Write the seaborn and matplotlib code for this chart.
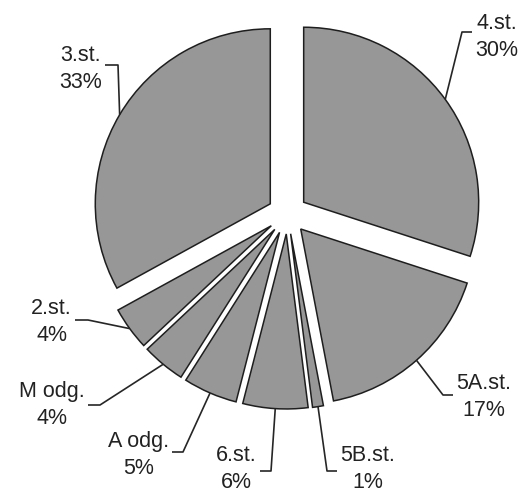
import numpy as np
import matplotlib
matplotlib.use("Agg")
import matplotlib.pyplot as plt
import seaborn as sns

# data (clockwise from 12 o'clock)
categories = ["4.st.", "5A.st.", "5B.st.", "6.st.", "A odg.", "M odg.", "2.st.", "3.st."]
shares = [30, 17, 1, 6, 5, 4, 4, 33]

# label layout in picture pixels (y downwards): elbow of leader, end of leader, text shift
elbows = [(462, 32), (443, 395), (327, 471), (271, 471), (183, 452), (100, 405), (88, 320), (118, 65)]
ends_x = [472, 453, 337, 260, 172, 88, 75, 105]
text_dy = [5, 2, -2, -2, 3, 0, 2, 4]

W, H = 521, 495

sns.set_theme(style="white")
plt.rcParams["font.family"] = ["Liberation Sans", "DejaVu Sans"]

fig = plt.figure(figsize=(W / 100, H / 100), dpi=100)
ax = fig.add_axes([0, 0, 1, 1])

wedges, _ = ax.pie(
    shares,
    explode=[20] * len(shares),
    radius=175,
    center=(287.5, H - 214),
    startangle=90,
    counterclock=False,
    colors=["#979797"] * len(shares),
    wedgeprops=dict(edgecolor="#1e1e1e", linewidth=1.1),
)

line_kw = dict(color="#262626", lw=1.2, solid_capstyle="butt")
for w, cat, val, (ex, ey), xe, dy in zip(wedges, categories, shares, elbows, ends_x, text_dy):
    tm = np.deg2rad((w.theta1 + w.theta2) / 2)
    cx, cy = w.center
    px, py = cx + w.r * np.cos(tm), cy + w.r * np.sin(tm)
    ey_up = H - ey
    ax.plot([px, ex, xe], [py, ey_up, ey_up], **line_kw)
    right = xe > ex
    ax.text(xe + (3 if right else -3), ey_up - dy, f"{cat}\n{val}%",
            ha="left" if right else "right", va="center", multialignment="center",
            linespacing=1.4, fontsize=15.5, color="#222222")

ax.set_xlim(0, W)
ax.set_ylim(0, H)
ax.set_aspect("equal")
ax.axis("off")

fig.savefig("out.png", dpi=100)
